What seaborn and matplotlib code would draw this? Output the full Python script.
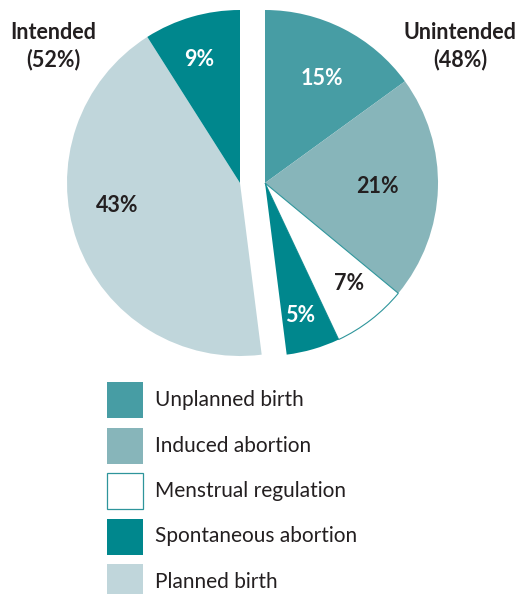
import numpy as np
import matplotlib
matplotlib.use("Agg")
import matplotlib.pyplot as plt
from matplotlib.patches import Rectangle
import seaborn as sns

# Data
unintended_labels = ["Unplanned birth", "Induced abortion", "Menstrual regulation", "Spontaneous abortion"]
unintended_values = [15, 21, 7, 5]
intended_labels = ["Planned birth", "Spontaneous abortion"]
intended_values = [43, 9]
group_titles = ["Intended\n(52%)", "Unintended\n(48%)"]
legend_labels = ["Unplanned birth", "Induced abortion", "Menstrual regulation",
                 "Spontaneous abortion", "Planned birth"]

c_unplanned = "#479DA4"
c_induced = "#87B5BA"
c_mr = "#FFFFFF"
c_spont = "#00878D"
c_planned = "#C0D6DB"
teal_edge = "#2E959B"
dark = "#231F20"

sns.set_theme(style="white")
plt.rcParams['font.family'] = ['Lato', 'DejaVu Sans']

fig = plt.figure(figsize=(5.19, 5.94), dpi=100)
ax = fig.add_axes([0, 0, 1, 1])

R = 173
cy = 594 - 183

u_frac = [v / 100 for v in unintended_values]
i_frac = [v / 100 for v in intended_values]

w_u, _ = ax.pie(u_frac, normalize=False, startangle=90, counterclock=False,
                center=(265, cy), radius=R,
                colors=[c_unplanned, c_induced, c_mr, c_spont],
                wedgeprops=dict(linewidth=0))
start_i = 90 - sum(u_frac) * 360
w_i, _ = ax.pie(i_frac, normalize=False, startangle=start_i, counterclock=False,
                center=(240, cy), radius=R,
                colors=[c_planned, c_spont],
                wedgeprops=dict(linewidth=0))
w_u[2].set_edgecolor(teal_edge)
w_u[2].set_linewidth(0.8)

ax.set_xlim(0, 519)
ax.set_ylim(0, 594)
ax.set_aspect('equal')
ax.axis('off')

def label_wedges(wedges, values, fracs, dists, colors, center):
    for w, v, f, d, c in zip(wedges, values, fracs, dists, colors):
        ang = np.deg2rad(w.theta1 + f * (w.theta2 - w.theta1))
        x = center[0] + d * R * np.cos(ang)
        y = center[1] + d * R * np.sin(ang)
        ax.text(x, y, f"{v}%", ha='center', va='center', fontsize=15.5,
                fontweight='bold', color=c)

label_wedges(w_u, unintended_values, [0.47, 0.5, 0.58, 0.42], [0.69, 0.65, 0.76, 0.79],
             ["white", dark, dark, "white"], (265, cy))
label_wedges(w_i, intended_values, [0.44, 0.57], [0.72, 0.75], [dark, "white"], (240, cy))

ax.text(53, 594 - 46, group_titles[0], ha='center', va='center', fontsize=15.5,
        fontweight='bold', color=dark, linespacing=1.3)
ax.text(460, 594 - 46, group_titles[1], ha='center', va='center', fontsize=15.5,
        fontweight='bold', color=dark, linespacing=1.3)

# Legend (drawn as swatches + labels)
leg_colors = [c_unplanned, c_induced, c_mr, c_spont, c_planned]
box = 36
top0 = 382
step = 45.5
for i, (lab, col) in enumerate(zip(legend_labels, leg_colors)):
    top = top0 + i * step
    y0 = 594 - top - box
    ec = teal_edge if col == c_mr else col
    ax.add_patch(Rectangle((107, y0), box, box, facecolor=col, edgecolor=ec,
                           linewidth=0.9 if col == c_mr else 0, clip_on=False))
    ax.text(155, y0 + box / 2, lab, ha='left', va='center', fontsize=15, color=dark)

fig.savefig("out.png", dpi=100)
